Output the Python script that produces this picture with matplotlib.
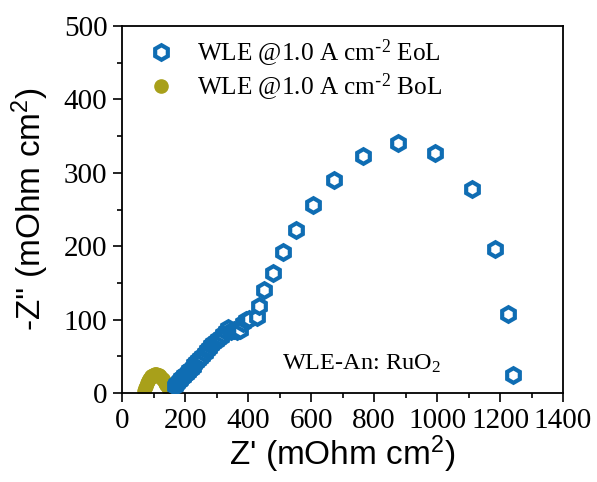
import matplotlib
matplotlib.use('Agg')
import matplotlib.pyplot as plt

BLUE = '#0F6DB3'
OLIVE = '#A8A01A'
SERIF = 'Liberation Serif'
SANS = 'Liberation Sans'

# EoL spectrum, Z' and -Z'' in mOhm cm2
eol_zre = [168, 172, 176, 180, 184, 188, 193, 198, 203, 208, 213, 218, 224, 230,
           236, 242, 248, 255, 262, 269, 276, 283, 290, 297, 305, 313, 321, 329,
           337, 345, 354, 364, 375, 383, 395, 403, 430, 436, 452, 480, 512, 552,
           607, 674, 766, 875, 994, 1110, 1184, 1226, 1242]
eol_zim = [10, 12, 14, 16, 18, 20, 22, 24, 26, 29, 31, 33, 36, 39,
           42, 45, 48, 51, 55, 58, 62, 65, 68, 71, 74, 77, 80, 85,
           88, 84, 86, 84, 86, 95, 99, 101, 104, 118, 141, 163, 192, 222,
           256, 290, 323, 341, 327, 278, 196, 108, 25]

# BoL spectrum
bol_zre = [70, 72, 75, 78, 81, 85, 89, 93, 97, 101, 105, 109, 113, 117, 121,
           125, 129, 133, 137, 141, 145, 149, 152]
bol_zim = [3, 7, 10, 13, 16, 19, 21, 23, 24, 25, 25.5, 25.5, 25, 24, 23,
           21, 19, 17, 14, 11, 8, 5, 3]

xticks = [0, 200, 400, 600, 800, 1000, 1200, 1400]
yticks = [0, 100, 200, 300, 400, 500]

fig = plt.figure(figsize=(5.97, 4.82), dpi=100)
ax = fig.add_axes([0.2044, 0.1846, 0.7387, 0.7614])

h_bol, = ax.plot(bol_zre, bol_zim, 'o', color=OLIVE, ms=9.5, mec=OLIVE, zorder=2)
h_eol, = ax.plot(eol_zre, eol_zim, 'h', color=BLUE, mfc='white', mec=BLUE,
                 ms=10.5, mew=3, zorder=3)

ax.set_xlim(0, 1400)
ax.set_ylim(0, 500)
ax.set_xticks(xticks)
ax.set_yticks(yticks)
ax.set_xticks([100, 300, 500, 700, 900, 1100, 1300], minor=True)
ax.set_yticks([50, 150, 250, 350, 450], minor=True)
ax.tick_params(which='major', direction='out', length=6.5, width=1.2, pad=4,
               labelsize=21)
ax.tick_params(which='minor', direction='out', length=3.5, width=1.2)
for lab in ax.get_xticklabels() + ax.get_yticklabels():
    lab.set_family(SERIF)
for s in ax.spines.values():
    s.set_linewidth(1.3)

ax.set_xlabel("Z' (mOhm cm$\\mathregular{^2}$)", family=SANS, fontsize=24, labelpad=0)
ax.set_ylabel("-Z'' (mOhm cm$\\mathregular{^2}$)", family=SANS, fontsize=24, labelpad=9)

ax.legend([h_eol, h_bol],
          ['WLE @1.0 A cm$\\mathregular{^{\\text{-}2}}$ EoL',
           'WLE @1.0 A cm$\\mathregular{^{\\text{-}2}}$ BoL'],
          loc='upper left', bbox_to_anchor=(0.059, 0.968), frameon=False,
          borderpad=0, borderaxespad=0, handlelength=1, handletextpad=0.95,
          labelspacing=0.1, numpoints=1, prop={'family': SERIF, 'size': 18.2})

ax.text(0.363, 0.063, 'WLE-An: RuO$\\mathregular{_2}$', transform=ax.transAxes,
        family=SERIF, fontsize=17.5, ha='left', va='baseline')

fig.savefig('out.png', dpi=100)
